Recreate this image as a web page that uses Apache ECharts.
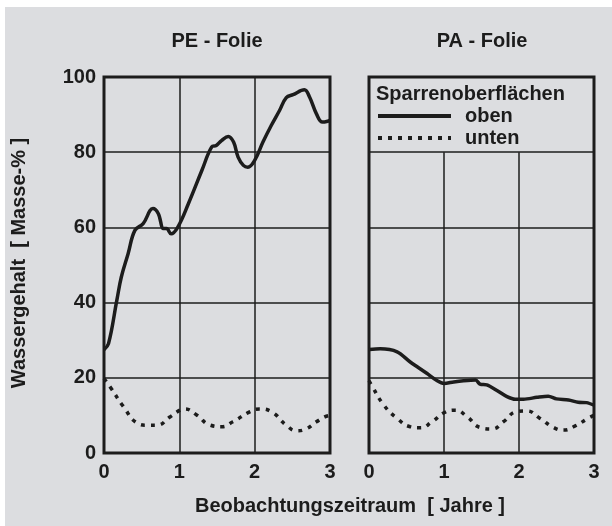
<!DOCTYPE html>
<html>
<head>
<meta charset="utf-8">
<script src="https://cdn.jsdelivr.net/npm/echarts@6/dist/echarts.min.js"></script>
<style>
  html, body { margin: 0; padding: 0; background: #ffffff; }
  #chart { width: 612px; height: 526px; }
</style>
</head>
<body>
<div id="chart"></div>
<script>
// Werte (Jahre / Masse-%)
var peObenX = [0, 0.06, 0.17, 0.23, 0.32, 0.41, 0.52, 0.65, 0.72, 0.79, 0.83, 0.89, 0.98, 1.12, 1.30, 1.43, 1.49, 1.56, 1.65, 1.72, 1.78, 1.85, 1.91, 2.0, 2.11, 2.22, 2.33, 2.42, 2.51, 2.66, 2.73, 2.82, 2.90, 2.98, 3.0];
var peObenY = [27.5, 29.1, 40.6, 46.8, 53, 59.2, 61, 65, 63.7, 59.7, 59.7, 58.3, 60.1, 66.3, 75.2, 81.4, 81.8, 83.1, 84.2, 82.7, 78.7, 76.5, 76.0, 77.8, 82.7, 87.1, 91.1, 94.5, 95.3, 96.6, 94.6, 90.2, 88.0, 88.3, 88.5];

var peUntenX = [0, 0.08, 0.26, 0.43, 0.57, 0.70, 0.875, 1.01, 1.07, 1.23, 1.41, 1.56, 1.71, 1.94, 2.07, 2.22, 2.42, 2.56, 2.69, 2.82, 2.93, 3.0];
var peUntenY = [19.8, 17.6, 12.3, 8.1, 7.4, 7.4, 9.6, 11.4, 11.7, 10.1, 7.4, 7.0, 8.3, 11.0, 11.7, 11.0, 7.4, 5.9, 6.5, 8.3, 9.6, 10.0];

var paObenX = [0, 0.15, 0.375, 0.55, 0.77, 0.91, 1.0, 1.13, 1.26, 1.42, 1.48, 1.57, 1.70, 1.84, 1.95, 2.06, 2.24, 2.39, 2.50, 2.66, 2.79, 2.90, 3.0];
var paObenY = [27.5, 27.7, 26.9, 24.2, 21.2, 19.2, 18.5, 18.9, 19.2, 19.4, 18.3, 18.1, 16.7, 15.0, 14.3, 14.3, 14.8, 15.1, 14.4, 14.1, 13.5, 13.4, 12.7];

var paUntenX = [0, 0.04, 0.2, 0.375, 0.55, 0.685, 0.84, 1.0, 1.15, 1.31, 1.48, 1.64, 1.79, 1.97, 2.10, 2.28, 2.46, 2.59, 2.75, 2.92, 3.0];
var paUntenY = [19.2, 17.8, 12.7, 9.2, 7.0, 6.7, 8.3, 10.7, 11.4, 9.6, 6.8, 6.4, 8.3, 11.0, 11.2, 9.2, 6.8, 6.1, 7.2, 9.2, 10.0];

var xTicks = [0, 1, 2, 3];
var yTicks = [0, 20, 40, 60, 80, 100];
var panelTitles = ['PE - Folie', 'PA - Folie'];
var legendTitle = 'Sparrenoberflächen';
var legendNames = ['oben', 'unten'];
var xName = 'Beobachtungszeitraum  [ Jahre ]';
var yName = 'Wassergehalt  [ Masse-% ]';

function pairs(xs, ys) {
    var out = [];
    for (var i = 0; i < xs.length; i++) {
        out.push([xs[i], ys[i]]);
    }
    return out;
}

var myChart = echarts.init(document.getElementById('chart'));

var ink = '#1c1c1c';
var font = '"Liberation Sans", Arial, sans-serif';

function makeX(idx) {
    return {
        type: 'value', gridIndex: idx, min: xTicks[0], max: xTicks[xTicks.length - 1], interval: 1,
        axisLine: { show: false }, axisTick: { show: false },
        axisLabel: { fontSize: 20, fontWeight: 'bold', color: ink, fontFamily: font, margin: 9 },
        splitLine: { show: idx === 0, lineStyle: { color: ink, width: 1.5 } }
    };
}
function makeY(idx) {
    return {
        type: 'value', gridIndex: idx, min: yTicks[0], max: yTicks[yTicks.length - 1], interval: 20,
        axisLine: { show: false }, axisTick: { show: false },
        axisLabel: { show: idx === 0, fontSize: 20, fontWeight: 'bold', color: ink, fontFamily: font, margin: 8 },
        splitLine: { show: true, lineStyle: { color: ink, width: 1.5 } }
    };
}

var solid = { color: ink, width: 3.5 };
var dashed = { color: ink, width: 3.5, type: [4, 6], cap: 'butt' };

function textEl(str, x, y, align) {
    return {
        type: 'text', silent: true,
        style: { text: str, x: x, y: y, textAlign: align, textVerticalAlign: 'middle', font: 'bold 20px ' + font, fill: ink }
    };
}

var option = {
    backgroundColor: '#ffffff',
    animation: false,
    color: [ink, ink],
    textStyle: { fontFamily: font },
    grid: [
        { left: 104, top: 77, width: 226, height: 376, show: true, borderWidth: 3, borderColor: ink },
        { left: 369, top: 77, width: 225, height: 376, show: true, borderWidth: 3, borderColor: ink }
    ],
    xAxis: [makeX(0), makeX(1)],
    yAxis: [makeY(0), makeY(1)],
    legend: {
        data: legendNames,
        orient: 'vertical',
        left: 371, top: 101,
        itemWidth: 73, itemHeight: 14, itemGap: 2,
        itemStyle: { opacity: 0 },
        lineStyle: { width: 4 },
        textStyle: { fontSize: 20, fontWeight: 'bold', color: ink, fontFamily: font, padding: [0, 0, 0, 9] }
    },
    graphic: [
        { type: 'rect', z: -100, silent: true, shape: { x: 5, y: 7, width: 607, height: 519 }, style: { fill: '#dcdde0' } },
        textEl(panelTitles[0], 217, 41, 'center'),
        textEl(panelTitles[1], 482, 41, 'center'),
        textEl(legendTitle, 376, 94, 'left'),
        textEl(xName, 350, 506, 'center'),
        {
            type: 'text', silent: true, rotation: Math.PI / 2, x: 19, y: 263,
            style: { text: yName, x: 0, y: 0, textAlign: 'center', textVerticalAlign: 'middle', font: 'bold 20px ' + font, fill: ink }
        }
    ],
    series: [
        { name: 'oben', type: 'line', xAxisIndex: 0, yAxisIndex: 0, data: pairs(peObenX, peObenY), showSymbol: false, symbol: 'none', smooth: 0.4, lineStyle: solid },
        { name: 'unten', type: 'line', xAxisIndex: 0, yAxisIndex: 0, data: pairs(peUntenX, peUntenY), showSymbol: false, symbol: 'none', smooth: 0.5, lineStyle: dashed },
        { name: 'oben', type: 'line', xAxisIndex: 1, yAxisIndex: 1, data: pairs(paObenX, paObenY), showSymbol: false, symbol: 'none', smooth: 0.3, lineStyle: solid },
        {
            name: 'unten', type: 'line', xAxisIndex: 1, yAxisIndex: 1, data: pairs(paUntenX, paUntenY), showSymbol: false, symbol: 'none', smooth: 0.5, lineStyle: dashed,
            markLine: {
                silent: true, symbol: 'none', label: { show: false },
                lineStyle: { color: ink, width: 1.5, type: 'solid' },
                data: [
                    [{ coord: [xTicks[1], yTicks[0]] }, { coord: [xTicks[1], yTicks[4]] }],
                    [{ coord: [xTicks[2], yTicks[0]] }, { coord: [xTicks[2], yTicks[4]] }]
                ]
            }
        }
    ]
};

myChart.setOption(option);
</script>
</body>
</html>
